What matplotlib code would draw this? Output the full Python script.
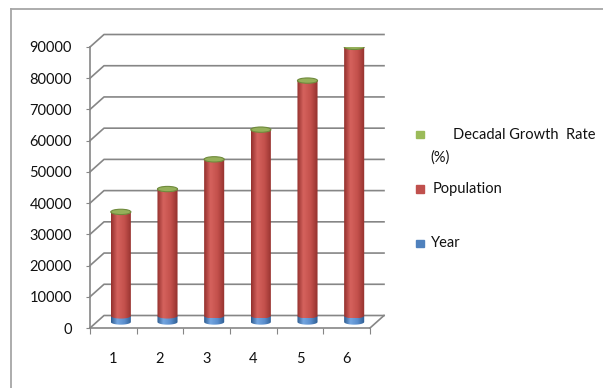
import matplotlib
matplotlib.use('Agg')
import matplotlib.pyplot as plt
import matplotlib.transforms as mtransforms
from matplotlib.colors import LinearSegmentedColormap
from matplotlib.patches import Polygon, Ellipse, Rectangle
from matplotlib.lines import Line2D
import numpy as np

# data: census decades, stacked as Year / Population / Decadal Growth Rate
categories = ['1', '2', '3', '4', '5', '6']
year = [1951, 1961, 1971, 1981, 1991, 2001]
population = [33300, 40600, 50100, 59600, 75300, 86100]
growth_rate = [13.31, 21.64, 24.80, 24.66, 23.87, 21.54]

legend_names = ['Decadal Growth  Rate', 'Population', 'Year']
colors = {'Year': '#4f81bd', 'Population': '#c0504d', 'Growth': '#9bbb59'}

plt.rcParams['font.family'] = ['Lato', 'DejaVu Sans']
text_c = '#111111'
grid_c = '#868686'

W, H = 603, 388
fig = plt.figure(figsize=(W / 100, H / 100), dpi=100)
ax = fig.add_axes([90 / W, (H - 328) / H, 280 / W, 281 / H])
ax.patch.set_alpha(0)

# fake 3d: back wall shifted up/right, cylinders half way in
depth_px = (14, 12.5)
bar_px = (7.5, 6)
ddx = depth_px[0] / (280 / 6)
ddy = depth_px[1] / (281 / 90000)

for v in range(0, 90001, 10000):
    ax.plot([0.5, 0.5 + ddx, 6.5 + ddx], [v, v + ddy, v + ddy],
            color=grid_c, lw=1.2, clip_on=False, zorder=1)
ax.plot([6.5, 6.5 + ddx], [0, ddy], color=grid_c, lw=1.2, clip_on=False, zorder=1)

bar_tr = mtransforms.offset_copy(ax.transData, fig=fig, x=bar_px[0], y=bar_px[1], units='dots')
bw = 0.43
cap = 1700


def shade(c_edge, c_mid, c_hi):
    return LinearSegmentedColormap.from_list('', [(0, c_edge), (0.3, c_hi), (0.65, c_mid), (1, c_edge)])


cmaps = {
    'Year': shade('#2d5b8f', '#5a8ecd', '#74a6e0'),
    'Population': shade('#93302d', '#c4514c', '#d5625d'),
    'Growth': shade('#6b8538', '#a5c465', '#b8d57c'),
}
grad = np.linspace(0, 1, 64).reshape(1, -1)


def cylinder(cx, bottom, top, cmap, z):
    t = np.linspace(np.pi, 2 * np.pi, 40)
    xs = np.concatenate([[cx - bw / 2], cx + bw / 2 * np.cos(t), [cx + bw / 2]])
    ys = np.concatenate([[top], bottom + cap / 2 * np.sin(t), [top]])
    body = Polygon(np.column_stack([xs, ys]), closed=True, facecolor='none',
                   edgecolor='none', transform=bar_tr)
    ax.add_patch(body)
    im = ax.imshow(grad, cmap=cmap, extent=[cx - bw / 2, cx + bw / 2, bottom - cap / 2, top],
                   aspect='auto', transform=bar_tr, zorder=z, interpolation='bilinear')
    im.set_clip_path(body)


for i, cx in enumerate(range(1, 7)):
    b0 = 0
    b1 = b0 + year[i]
    b2 = b1 + population[i]
    b3 = b2 + growth_rate[i]
    cylinder(cx, b0, b1, cmaps['Year'], 3)
    cylinder(cx, b1, b2, cmaps['Population'], 4)
    cylinder(cx, b2, b3, cmaps['Growth'], 5)
    ax.add_patch(Ellipse((cx, b3), bw, cap, transform=bar_tr, facecolor='#95b05a',
                         edgecolor='#6f8a3c', lw=0.8, zorder=6))

ax.set_xlim(0.5, 6.5)
ax.set_ylim(0, 90000)

for s in ['top', 'right']:
    ax.spines[s].set_visible(False)
ax.spines['left'].set_color(grid_c)
ax.spines['bottom'].set_color(grid_c)
ax.spines['left'].set_linewidth(1.2)
ax.spines['bottom'].set_linewidth(1.2)

ax.set_yticks(range(0, 90001, 10000))
ax.tick_params(axis='y', length=3, color=grid_c, pad=10, labelsize=10.5, labelcolor=text_c)
ax.set_xticks(np.arange(0.5, 7, 1))
ax.set_xticklabels([])
ax.set_xticks(range(1, 7), minor=True)
ax.set_xticklabels(categories, minor=True)
ax.tick_params(axis='x', which='major', length=4, color=grid_c)
ax.tick_params(axis='x', which='minor', length=0, pad=17, labelsize=10.5, labelcolor=text_c)

# chart area border
fig.add_artist(Line2D([10.5 / W, 10.5 / W], [0, 1 - 8.5 / H], transform=fig.transFigure,
                      color='#a6a6a6', lw=1.3))
fig.add_artist(Line2D([10.5 / W, 1], [1 - 8.5 / H, 1 - 8.5 / H], transform=fig.transFigure,
                      color='#a6a6a6', lw=1.3))

# legend
leg_keys = ['Growth', 'Population', 'Year']
leg_y = [135, 189, 243]
leg_tx = [453, 433, 431]
for key, name, y, tx in zip(leg_keys, legend_names, leg_y, leg_tx):
    fig.add_artist(Rectangle(((420 - 4) / W, (H - y - 3.5) / H), 8 / W, 7 / H,
                             transform=fig.transFigure, color=colors[key]))
    fig.text(tx / W, (H - y) / H, name, va='center', ha='left', fontsize=10.5, color=text_c)
fig.text(430 / W, (H - 158) / H, '(%)', va='center', ha='left', fontsize=10.5, color=text_c)

fig.savefig('out.png', dpi=100)
